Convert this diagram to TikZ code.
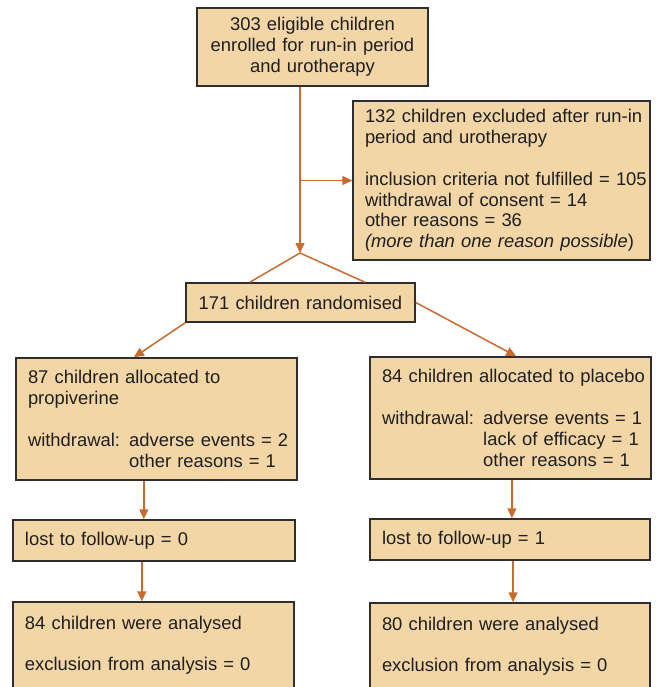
\documentclass[tikz,border=0pt]{standalone}
\usepackage{fontspec}
\setmainfont{Liberation Sans}
\usepackage{xcolor}
\usetikzlibrary{arrows.meta,calc}
\definecolor{boxfill}{HTML}{F3D6A6}
\definecolor{boxline}{HTML}{2E2E2E}
\definecolor{flow}{HTML}{C96A2F}
\definecolor{txt}{HTML}{1E1E1E}
\newcommand{\boxfont}{\fontsize{9.2}{10.4}\selectfont}
\newcommand{\wdind}{\hphantom{withdrawal: }}
\tikzset{
  bx/.style={draw=boxline,fill=boxfill,line width=0.75pt,text=txt,font=\boxfont,inner xsep=6pt,inner ysep=2pt},
  fl/.style={draw=flow,line width=0.75pt},
  fa/.style={fl,-{Triangle[length=5pt,width=4.5pt]}}
}

\begin{document}
\begin{tikzpicture}[x=0.5pt,y=-0.5pt]
\useasboundingbox (0,0) rectangle (655,687);
\node[bx,align=center,text width=103.5pt,minimum height=39pt] (enrol) at (312.5,47)
  {303 eligible children\\enrolled for run-in period\\and urotherapy};
\node[bx,align=left,text width=136.5pt,minimum height=79.5pt] (excl) at (501.5,180.5)
  {\mbox{132 children excluded after run-in}\\period and urotherapy\\[10.4pt]\mbox{inclusion criteria not fulfilled = 105}\\withdrawal of consent = 14\\other reasons = 36\\\textit{(more than one reason possible})};
\node[bx,align=center,text width=102.5pt,minimum height=19.5pt] (rand) at (300.5,302.5)
  {171 children randomised};
\node[bx,align=left,text width=128.5pt,minimum height=61pt] (propi) at (156.5,419)
  {87 children allocated to\\propiverine\\[10.4pt]\mbox{withdrawal: adverse events = 2}\\\wdind other reasons = 1};
\node[bx,align=left,text width=128.5pt,minimum height=61pt] (plac) at (510.5,418)
  {\mbox{84 children allocated to placebo}\\[10.4pt]\mbox{withdrawal: adverse events = 1}\\\wdind lack of efficacy = 1\\\wdind other reasons = 1};
\node[bx,align=left,text width=129pt,minimum height=20.5pt] (lostP) at (154,540.5)
  {lost to follow-up = 0};
\node[bx,align=left,text width=128pt,minimum height=20.5pt] (lostC) at (510,539.5)
  {lost to follow-up = 1};
\node[bx,align=left,text width=128.5pt,minimum height=62pt] (anaP) at (153.5,664)
  {84 children were analysed\\[10.4pt]exclusion from analysis = 0\\[10.4pt]~};
\node[bx,align=left,text width=128pt,minimum height=62pt] (anaC) at (510,665)
  {80 children were analysed\\[10.4pt]exclusion from analysis = 0\\[10.4pt]~};

\coordinate (split) at (300,253);
\draw[fa] (split |- enrol.south) -- (split);
\draw[fa] (excl.west -| split) -- (excl.west);
\draw[fl] (split) -- ($(rand.north west)!0.28!(rand.north east)$);
\draw[fl] (split) -- ($(rand.north west)!0.78!(rand.north east)$);
\draw[fa] (rand.south west) -- ($(propi.north west)!0.42!(propi.north east)$);
\draw[fa] (rand.east) -- ($(plac.north west)!0.52!(plac.north east)$);
\draw[fa] ($(propi.south west)!0.455!(propi.south east)$) coordinate (p1) -- (p1 |- lostP.north);
\draw[fa] ($(lostP.south west)!0.457!(lostP.south east)$) coordinate (p2) -- (p2 |- anaP.north);
\draw[fa] ($(plac.south west)!0.505!(plac.south east)$) coordinate (c1) -- (c1 |- lostC.north);
\draw[fa] ($(lostC.south west)!0.511!(lostC.south east)$) coordinate (c2) -- (c2 |- anaC.north);
\end{tikzpicture}
\end{document}
